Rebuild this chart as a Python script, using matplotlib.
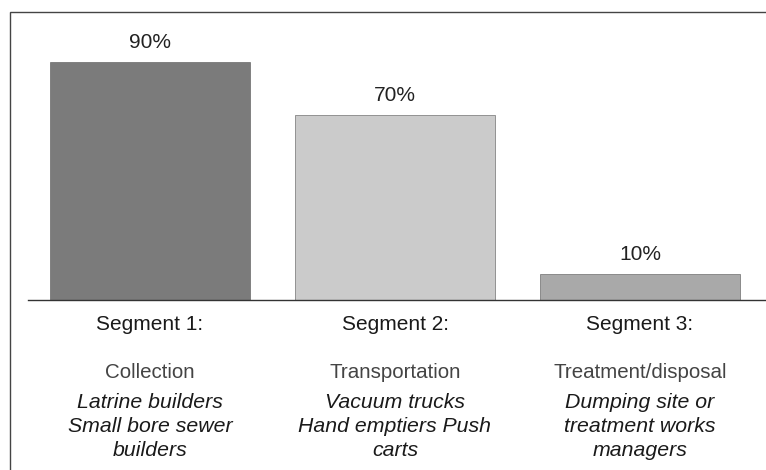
import matplotlib.pyplot as plt
import matplotlib.patches as patches
from matplotlib.transforms import blended_transform_factory

plt.rcParams['font.family'] = ['Liberation Sans', 'DejaVu Sans']

segments = ["Segment 1:", "Segment 2:", "Segment 3:"]
stages = ["Collection", "Transportation", "Treatment/disposal"]
actors = [["Latrine builders", "Small bore sewer", "builders"],
          ["Vacuum trucks", "Hand emptiers Push", "carts"],
          ["Dumping site or", "treatment works", "managers"]]
values = [90, 70, 10]
colors = ["#7b7b7b", "#cbcbcb", "#a9a9a9"]

W, H = 766, 470
fig = plt.figure(figsize=(W / 100, H / 100), dpi=100)

# outer frame (cut off on the right and bottom like the scan)
frame = patches.Rectangle((10 / W, -0.05), 1.2, (H - 12) / H + 0.05,
                          transform=fig.transFigure, fill=False,
                          edgecolor="#444444", linewidth=1.0, clip_on=False)
fig.patches.append(frame)

base_y = 300
left_px = 28
ax = fig.add_axes([left_px / W, (H - base_y) / H, 1 - left_px / W, (base_y - 12) / H])
ax.set_xlim(-(150 - left_px) / 245, 2 + (766 - 640) / 245)
ax.set_ylim(0, (base_y - 12) / 2.645)

x = list(range(len(values)))
bars = ax.bar(x, values, width=0.816, color=colors, edgecolor="#555555",
              linewidth=0.4)
for xi, v in zip(x, values):
    ax.annotate(f"{v}%", (xi, v), xytext=(0, 7), textcoords="offset points",
                ha="center", va="bottom", fontsize=15, color="#222222")

for s in ["top", "left", "right"]:
    ax.spines[s].set_visible(False)
ax.spines["bottom"].set_color("#333333")
ax.spines["bottom"].set_linewidth(1.0)
ax.set_xticks([])
ax.set_yticks([])
ax.patch.set_alpha(0)

trans = blended_transform_factory(ax.transData, fig.transFigure)
for xi in x:
    ax.text(xi, (H - 325) / H, segments[xi], transform=trans, ha="center",
            va="center", fontsize=15, color="#1a1a1a")
    ax.text(xi, (H - 372) / H, stages[xi], transform=trans, ha="center",
            va="center", fontsize=14.8, color="#444444")
    for k, line in enumerate(actors[xi]):
        ax.text(xi, (H - 403 - 23.5 * k) / H, line, transform=trans,
                ha="center", va="center", fontsize=15.3, style="italic",
                color="#1a1a1a")

fig.savefig("out.png", dpi=100)
